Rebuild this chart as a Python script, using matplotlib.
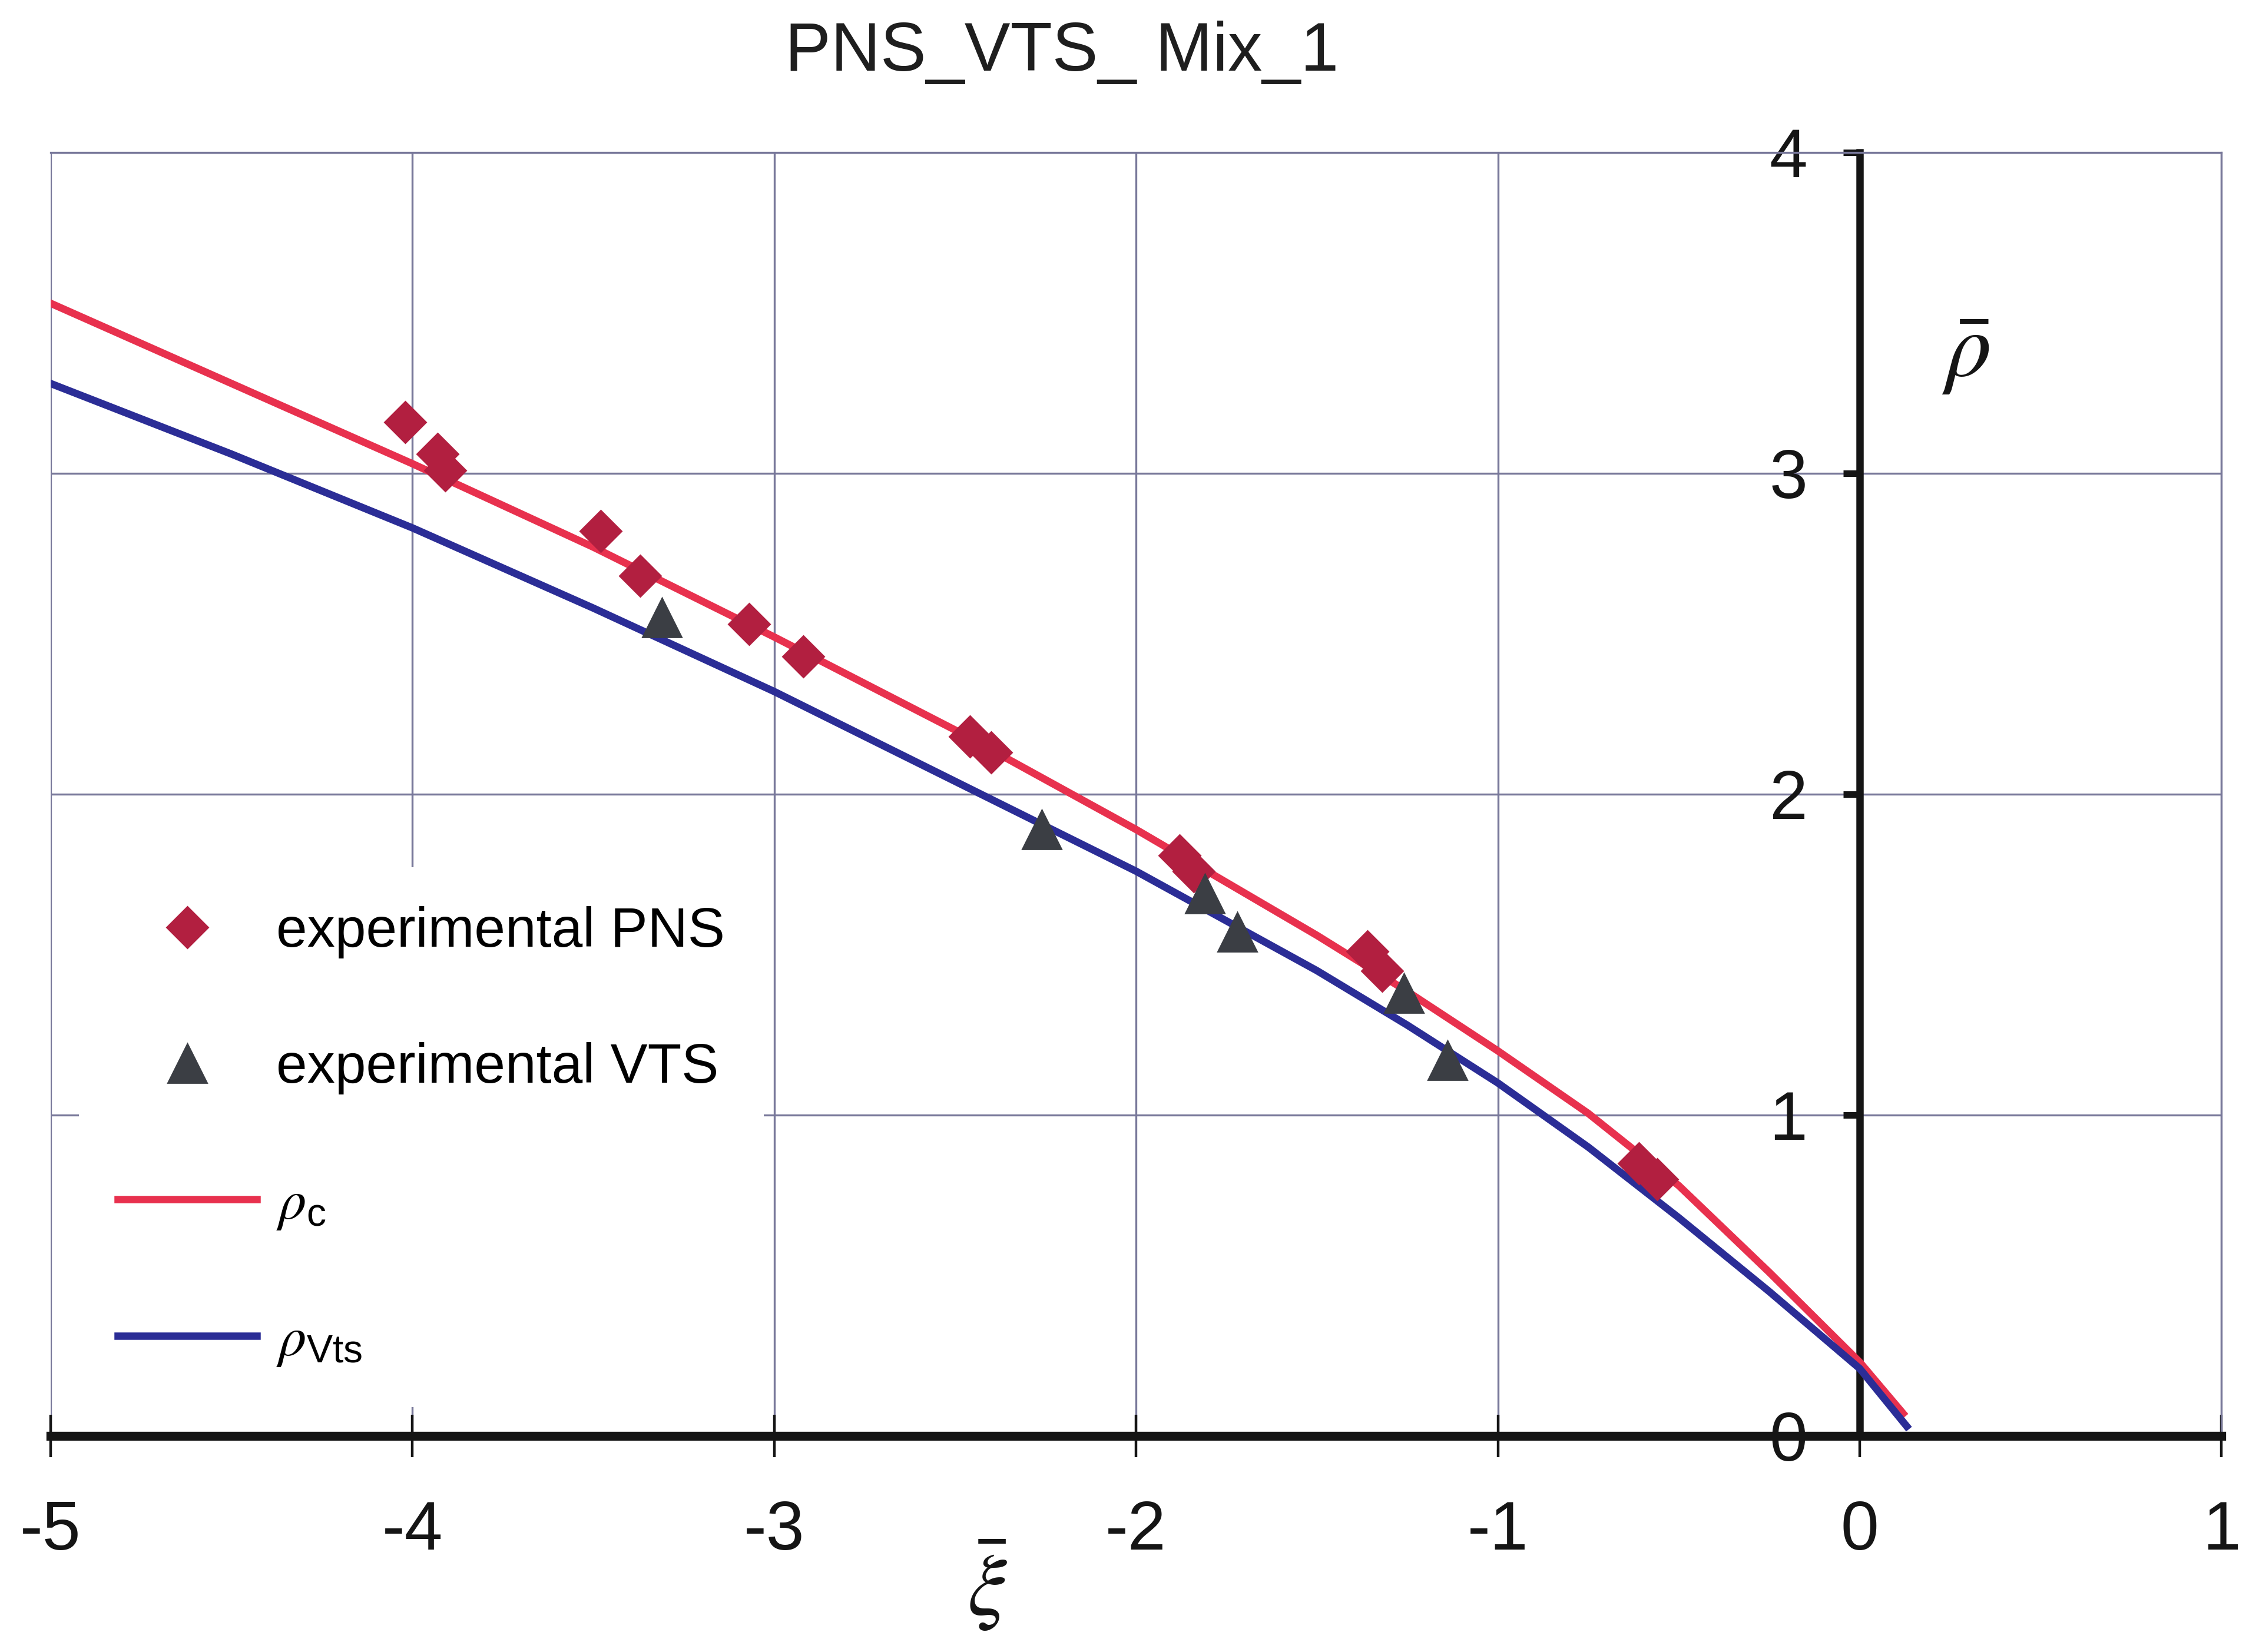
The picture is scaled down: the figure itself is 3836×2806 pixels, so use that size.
import matplotlib
matplotlib.use("Agg")
import matplotlib.pyplot as plt

plt.rcParams['font.family'] = ['Liberation Sans', 'DejaVu Sans']
plt.rcParams['mathtext.fontset'] = 'stix'
plt.rcParams['axes.unicode_minus'] = False

# Experimental points
pns_xi = [-4.02, -3.93, -3.91, -3.48, -3.37, -3.07, -2.92, -2.46, -2.40,
          -1.88, -1.84, -1.36, -1.32, -0.61, -0.56]
pns_rho = [3.16, 3.06, 3.01, 2.82, 2.68, 2.53, 2.43, 2.18, 2.13,
           1.81, 1.76, 1.51, 1.45, 0.85, 0.80]
vts_xi = [-3.31, -2.26, -1.81, -1.72, -1.26, -1.14]
vts_rho = [2.55, 1.89, 1.69, 1.57, 1.38, 1.17]

# Model curves
c_xi = [-5.0, -4.5, -4.0, -3.5, -3.0, -2.5, -2.0, -1.5, -1.25, -1.0, -0.75,
        -0.5, -0.25, 0.0, 0.12]
rho_c = [3.53, 3.28, 3.03, 2.77, 2.49, 2.20, 1.89, 1.56, 1.385, 1.20, 1.005,
         0.78, 0.51, 0.23, 0.07]
vts_curve_xi = [-5.0, -4.5, -4.0, -3.5, -3.0, -2.5, -2.0, -1.5, -1.25, -1.0,
                -0.75, -0.5, -0.25, 0.0, 0.13]
rho_vts = [3.28, 3.06, 2.83, 2.58, 2.32, 2.04, 1.76, 1.45, 1.28, 1.10,
           0.90, 0.68, 0.45, 0.21, 0.03]

x_ticks = [-5, -4, -3, -2, -1, 0, 1]
y_ticks = [0, 1, 2, 3, 4]

GRID = '#78789a'
RED_LINE = '#e8314e'
BLUE_LINE = '#2b2d96'
DIAMOND = '#b21f40'
TRIANGLE = '#3b3e44'

fig = plt.figure(figsize=(19.18, 14.03), dpi=200)
ax = fig.add_axes([0.0224, 0.1308, 0.961, 0.7769])
ax.set_xlim(-5, 1)
ax.set_ylim(0, 4)

ax.grid(True, color=GRID, lw=1.2)
ax.set_xticks(x_ticks)
ax.set_yticks(y_ticks)

ax.spines['left'].set_position(('data', 0))
ax.spines['left'].set_linewidth(4.5)
ax.spines['bottom'].set_linewidth(5.5)
ax.spines['left'].set_color('#151515')
ax.spines['bottom'].set_color('#151515')
for s in ('top', 'right'):
    ax.spines[s].set_color(GRID)
    ax.spines[s].set_linewidth(1.2)

ax.tick_params(axis='x', direction='inout', length=26, width=1.6,
               labelsize=42, pad=26, colors='#151515')
ax.tick_params(axis='y', direction='out', length=10, width=4,
               labelsize=42, pad=22, colors='#151515')

line_c, = ax.plot(c_xi, rho_c, color=RED_LINE, lw=4.5, zorder=4)
line_v, = ax.plot(vts_curve_xi, rho_vts, color=BLUE_LINE, lw=4.5, zorder=4)
pts_p, = ax.plot(pns_xi, pns_rho, ls='none', marker='D', ms=18,
                 color=DIAMOND, zorder=6)
pts_v, = ax.plot(vts_xi, vts_rho, ls='none', marker='^', ms=24,
                 color=TRIANGLE, zorder=6)

leg = ax.legend([pts_p, pts_v, line_c, line_v],
                ['experimental PNS', 'experimental VTS',
                 r'$\rho_{\mathregular{c}}$', r'$\rho_{\mathregular{Vts}}$'],
                loc='upper left', bbox_to_anchor=(0.013, 0.443),
                frameon=True, facecolor='white', edgecolor='none',
                framealpha=1, fontsize=34, handlelength=2.5,
                handletextpad=0.35, labelspacing=1.5, borderpad=0.7,
                borderaxespad=0)
leg.set_zorder(10)

fig.text(0.470, 0.968, 'PNS_VTS_ Mix_1', ha='center', va='center',
         fontsize=42, color='#1e1e1e')
fig.text(0.437, 0.040, r'$\bar{\xi}$', ha='center', va='center',
         fontsize=54, color='#151515')
fig.text(0.870, 0.786, r'$\bar{\rho}$', ha='center', va='center',
         fontsize=56, color='#151515')

fig.savefig('out.png', dpi=200, facecolor='white')
